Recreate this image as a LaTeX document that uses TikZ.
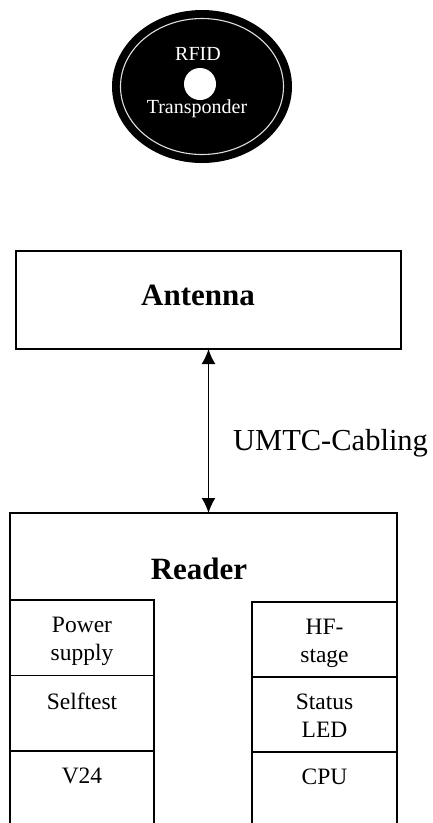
\documentclass[tikz,border=0pt]{standalone}
\usepackage{fontspec}
\setmainfont{Liberation Serif}
\usepackage{tikz}
\usetikzlibrary{arrows.meta}
\usetikzlibrary{positioning}
\usetikzlibrary{shapes.geometric}

\begin{document}
\begin{tikzpicture}[x=1pt, y=-1pt, line width=1.6pt,
    box/.style = {draw, inner sep=0pt, outer sep=0pt, anchor=north west},
    cell/.style = {box, minimum width=144pt, minimum height=75.5pt},
    celltext/.style = {inner sep=0pt, align=center, font=\fontsize{23.5}{28}\selectfont},
    title/.style = {anchor=base, font=\bfseries\fontsize{31}{36}\selectfont},
    tagtext/.style = {anchor=base, text=white, font=\fontsize{20}{24}\selectfont}]
    \useasboundingbox (0,0) rectangle (433,823);
    \clip (0,0) rectangle (433,823);
    % transponder
    \node[ellipse, fill=black, minimum width=180pt, minimum height=153pt, inner sep=0pt] (tag) at (202,86.5) {};
    \node[ellipse, draw=gray!25, line width=1.1pt, minimum width=163pt, minimum height=136pt, inner sep=0pt] (ring) at (tag.center) {};
    \node[circle, fill=white, minimum size=32pt, inner sep=0pt] (hole) at (200,84) {};
    \node[tagtext] (rfid) at (198,60) {RFID};
    \node[tagtext] (transp) at (197,113) {Transponder};
    % antenna
    \node[box, minimum width=385pt, minimum height=98pt] (antenna) at (16,251) {};
    \node[title] (antname) at (198,305) {Antenna};
    % reader
    \node[box, minimum width=387pt, minimum height=340pt] (reader) at (10,513) {};
    \node[title] (readname) at (199,579) {Reader};
    \draw[{Latex[length=15pt,width=14pt]}-{Latex[length=15pt,width=14pt]}, line width=1.6pt]
        (antenna.south) -- (antenna.south |- reader.north);
    \node[anchor=base west, font=\fontsize{30.5}{36}\selectfont] (cabling) at (229,450) {UMTC-Cabling};
    % left column
    \node[cell] (power) at (10,600) {};
    \node[cell, below=0pt of power] (selftest) {};
    \node[cell, minimum height=90pt, below=0pt of selftest] (v24) {};
    % right column
    \node[cell, minimum width=145pt, minimum height=75pt] (hf) at (252,602) {};
    \node[cell, minimum width=145pt, minimum height=75pt, below=0pt of hf] (status) {};
    \node[cell, minimum width=145pt, minimum height=90pt, below=0pt of status] (cpu) {};
    \node[celltext, below=16.5pt of power.north] (powertxt) {Power\\supply};
    \node[celltext, below=16.5pt of selftest.north] (selftesttxt) {Selftest};
    \node[celltext, below=16.5pt of v24.north] (v24txt) {V24};
    \node[celltext, below=16.5pt of hf.north] (hftxt) {HF-\\stage};
    \node[celltext, below=16.5pt of status.north] (statustxt) {Status\\LED};
    \node[celltext, below=16.5pt of cpu.north] (cputxt) {CPU};
\end{tikzpicture}
\end{document}
